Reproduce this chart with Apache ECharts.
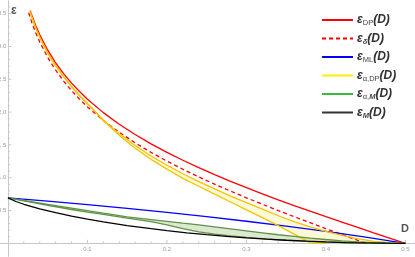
<!DOCTYPE html>
<html><head><meta charset="utf-8">
<script src="https://cdn.jsdelivr.net/npm/echarts@6/dist/echarts.min.js"></script>
<style>html,body{margin:0;padding:0;background:#fff}#c{width:415px;height:257px}</style>
</head><body><div id="c"></div>
<script>
// ---- data ----
const dpD = [0.028,0.03,0.035,0.04,0.05,0.06,0.07,0.08,0.09,0.10,0.12,0.14,0.16,0.18,0.20,0.22,0.24,0.26,0.28,0.30,0.32,0.34,0.36,0.38,0.40,0.42,0.44,0.46,0.48,0.50];
const dpE = [3.547,3.476,3.317,3.178,2.944,2.752,2.587,2.442,2.314,2.197,1.992,1.815,1.658,1.516,1.386,1.266,1.153,1.046,0.944,0.847,0.754,0.663,0.575,0.490,0.405,0.323,0.241,0.160,0.080,0];

const deltaD = [0.026,0.03,0.035,0.04,0.05,0.06,0.07,0.08,0.09,0.10,0.12,0.14,0.16,0.18,0.20,0.22,0.24,0.26,0.28,0.30,0.32,0.34,0.36,0.38,0.40,0.42,0.44,0.45];
const deltaE = [3.515,3.367,3.207,3.068,2.833,2.639,2.473,2.327,2.197,2.079,1.872,1.692,1.531,1.386,1.253,1.128,1.012,0.901,0.795,0.693,0.595,0.499,0.405,0.314,0.223,0.134,0.044,0];

const mlD = [0,0.05,0.10,0.15,0.20,0.25,0.30,0.35,0.40,0.45,0.50];
const mlE = [0.693,0.642,0.588,0.531,0.470,0.405,0.336,0.262,0.182,0.095,0];

const aDpD = [0.028,0.03,0.035,0.04,0.05,0.06,0.07,0.08,0.09,0.10,0.12,0.14,0.16,0.18,0.20,0.22,0.24,0.26,0.28,0.30,0.32,0.34,0.36,0.38,0.40,0.42,0.44,0.46,0.48,0.50];
const aDpUpper = [3.53,3.45,3.28,3.14,2.90,2.71,2.54,2.39,2.25,2.13,1.88,1.67,1.49,1.33,1.19,1.06,0.94,0.83,0.72,0.62,0.52,0.42,0.33,0.25,0.18,0.12,0.07,0.03,0.01,0];
const aDpLower = [3.53,3.45,3.28,3.14,2.90,2.71,2.54,2.39,2.25,2.13,1.87,1.645,1.45,1.28,1.13,0.99,0.87,0.75,0.63,0.51,0.39,0.27,0.14,0.01,0,0,0,0,0,0];

const aMD = [0,0.02,0.05,0.08,0.10,0.12,0.15,0.18,0.20,0.22,0.24,0.26,0.28,0.30,0.32,0.34,0.36,0.38,0.40,0.42,0.44,0.46,0.48,0.50];
const aMUpper = [0.693,0.653,0.593,0.535,0.497,0.459,0.404,0.362,0.335,0.307,0.281,0.250,0.220,0.190,0.160,0.130,0.105,0.080,0.058,0.038,0.021,0.009,0.002,0];
const aMLower = [0.693,0.645,0.580,0.515,0.475,0.440,0.385,0.329,0.280,0.225,0.175,0.140,0.112,0.090,0.070,0.053,0.040,0.028,0.019,0.012,0.006,0.003,0.001,0];

const mD = [0,0.01,0.02,0.04,0.06,0.08,0.10,0.12,0.15,0.18,0.20,0.225,0.25,0.275,0.30,0.325,0.35,0.375,0.40,0.425,0.45,0.475,0.50];
const mE = [0.693,0.637,0.595,0.525,0.466,0.414,0.368,0.326,0.270,0.222,0.193,0.160,0.131,0.105,0.082,0.063,0.046,0.032,0.020,0.011,0.005,0.0013,0];

const xTickLabels = [0.1,0.2,0.3,0.4,0.5];
const yTickLabels = [0.5,1.0,1.5,2.0,2.5,3.0,3.5];
const xMinorTicks = [0.02,0.04,0.06,0.08,0.12,0.14,0.16,0.18,0.22,0.24,0.26,0.28,0.32,0.34,0.36,0.38,0.42,0.44,0.46,0.48];
const yMinorTicks = [0.1,0.2,0.3,0.4,0.6,0.7,0.8,0.9,1.1,1.2,1.3,1.4,1.6,1.7,1.8,1.9,2.1,2.2,2.3,2.4,2.6,2.7,2.8,2.9,3.1,3.2,3.3,3.4,3.6];

const legendNames = ['DP','delta','ML','aDP','aM','M'];
const legendSubs = {DP:'{s|DP}', delta:'{si|δ}', ML:'{s|ML}', aDP:'{s|α,DP}', aM:'{s|α,}{si|M}', M:'{si|M}'};

// ---- helpers ----
const zip = (a,b) => a.map((v,i)=>[v,b[i]]);
function untilZero(D, E){
  const out=[];
  for(let i=0;i<D.length;i++){ out.push([D[i],E[i]]); if(E[i]===0 && i>0) break; }
  return out;
}
function line(name, data, color, extra){
  return Object.assign({
    type:'line', name, data, symbol:'none', smooth:false,
    lineStyle:{color, width:1.3}, itemStyle:{color}, z:3, silent:true, animation:false
  }, extra||{});
}
function band(name, D, lo, hi, fill){
  return {
    type:'custom', name, z:1, silent:true, animation:false,
    data: D.map((d,i)=>[d, lo[i], hi[i]]),
    encode:{x:0, y:[1,2]},
    renderItem(params, api){
      if(params.dataIndex!==0) return null;
      const pts=[];
      for(let i=0;i<D.length;i++) pts.push(api.coord([D[i],hi[i]]));
      for(let i=D.length-1;i>=0;i--) pts.push(api.coord([D[i],lo[i]]));
      return {type:'polygon', shape:{points:pts}, style:{fill, stroke:'none'}};
    }
  };
}

const yellowLine = '#f2c400', greenLine = '#5f9446';
const legendColors = {DP:'#ff0000', delta:'#ff0000', ML:'#0000ff', aDP:'#ffee00', aM:'#3cb83c', M:'#333333'};
const axisGray = '#c8c8c8', labelGray = '#9a9a9a';

const richStyles = {
  e:{fontSize:12, fontStyle:'italic', fontWeight:'bold', fontFamily:'Liberation Sans', fill:'#333', lineHeight:14},
  s:{fontSize:7.5, fontFamily:'Liberation Sans', fill:'#444', lineHeight:7, verticalAlign:'bottom'},
  si:{fontSize:7.5, fontStyle:'italic', fontWeight:'bold', fontFamily:'Liberation Sans', fill:'#444', lineHeight:7, verticalAlign:'bottom'},
  p:{fontSize:12, fontStyle:'italic', fontWeight:'bold', fontFamily:'Liberation Sans', fill:'#333', lineHeight:14}
};

const legendGraphics = [];
legendNames.forEach((n,i)=>{
  const cy = 20 + i*18.5;
  legendGraphics.push({type:'line', silent:true, shape:{x1:322, y1:cy, x2:353, y2:cy},
    style:{stroke:legendColors[n], lineWidth:2, lineDash: n==='delta' ? [4,3] : null}});
  legendGraphics.push({type:'text', silent:true, x:357, y:cy,
    style:{text:'{e|ε}'+legendSubs[n]+'{p|(D)}', verticalAlign:'middle', rich:richStyles}});
});
const baseGraphics = [
  {type:'text', left:11, top:5, silent:true, style:{text:'ε', font:'bold 12px "Liberation Sans"', fill:'#555'}},
  {type:'text', left:401, top:223, silent:true, style:{text:'D', font:'bold 11px "Liberation Sans"', fill:'#555'}}
].concat(legendGraphics);

const chart = echarts.init(document.getElementById('c'), null, {renderer:'canvas'});
chart.setOption({
  animation:false,
  backgroundColor:'#ffffff',
  grid:{left:0, right:0, top:0.6, bottom:0.6, containLabel:false, outerBoundsMode:'none'},
  xAxis:{
    type:'value', min:-0.01, max:0.512,
    axisLine:{onZero:true, lineStyle:{color:axisGray, width:1}},
    axisTick:{show:false}, axisLabel:{show:false}, splitLine:{show:false}
  },
  yAxis:{
    type:'value', min:-0.2, max:3.7,
    axisLine:{onZero:true, lineStyle:{color:axisGray, width:1}},
    axisTick:{show:false}, axisLabel:{show:false}, splitLine:{show:false}
  },
  graphic: baseGraphics,
  series:[
    band('aDP', aDpD, aDpLower, aDpUpper, 'rgba(255,238,140,0.35)'),
    band('aM', aMD, aMLower, aMUpper, 'rgba(150,185,110,0.32)'),
    line('DP', zip(dpD,dpE), '#ff0000'),
    line('delta', zip(deltaD,deltaE), '#ff0000', {lineStyle:{color:'#ff0000', width:1.3, type:[4,3]}}),
    line('ML', zip(mlD,mlE), '#0000ff'),
    line('aDP', untilZero(aDpD,aDpLower), yellowLine),
    line('aDP', zip(aDpD,aDpUpper), yellowLine),
    line('aM', zip(aMD,aMLower), greenLine),
    line('aM', zip(aMD,aMUpper), greenLine),
    line('M', zip(mD,mE), '#000000', {z:4})
  ]
});

// tick marks and tick labels, placed through the chart's own scales
const toPx = v => chart.convertToPixel({gridIndex:0}, v);
const axisGraphics = [];
xTickLabels.forEach(v=>{
  const p = toPx([v,0]);
  axisGraphics.push({type:'line', silent:true, shape:{x1:p[0], y1:p[1], x2:p[0], y2:p[1]-3.5}, style:{stroke:axisGray, lineWidth:1}});
  axisGraphics.push({type:'text', silent:true, x:p[0], y:p[1]+3, style:{text:v.toFixed(1), align:'center', verticalAlign:'top', font:'6px "Liberation Sans"', fill:labelGray}});
});
xMinorTicks.forEach(v=>{
  const p = toPx([v,0]);
  axisGraphics.push({type:'line', silent:true, shape:{x1:p[0], y1:p[1], x2:p[0], y2:p[1]-2}, style:{stroke:axisGray, lineWidth:1}});
});
yTickLabels.forEach(v=>{
  const p = toPx([0,v]);
  axisGraphics.push({type:'line', silent:true, shape:{x1:p[0], y1:p[1], x2:p[0]+3.5, y2:p[1]}, style:{stroke:axisGray, lineWidth:1}});
  axisGraphics.push({type:'text', silent:true, x:p[0]-1.5, y:p[1], style:{text:v.toFixed(1), align:'right', verticalAlign:'middle', font:'6px "Liberation Sans"', fill:labelGray}});
});
yMinorTicks.forEach(v=>{
  const p = toPx([0,v]);
  axisGraphics.push({type:'line', silent:true, shape:{x1:p[0], y1:p[1], x2:p[0]+2, y2:p[1]}, style:{stroke:axisGray, lineWidth:1}});
});
chart.setOption({graphic: baseGraphics.concat(axisGraphics)});
</script></body></html>
